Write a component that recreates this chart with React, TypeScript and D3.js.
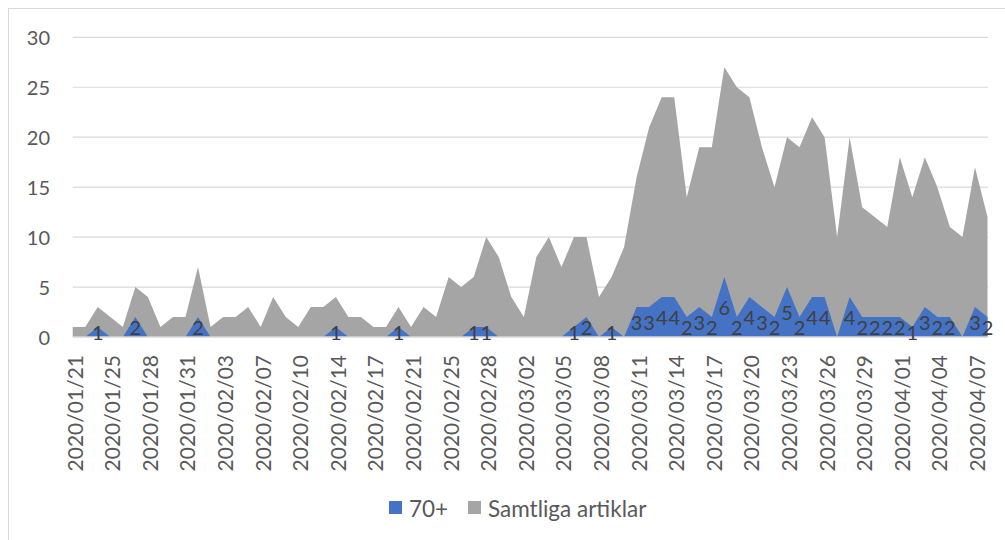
import React from 'react';
import * as d3 from 'd3';

const dates = [
  '2020/01/21', '2020/01/22', '2020/01/24', '2020/01/25', '2020/01/26', '2020/01/27', '2020/01/28', '2020/01/29', '2020/01/30', '2020/01/31',
  '2020/02/01', '2020/02/02', '2020/02/03', '2020/02/04', '2020/02/06', '2020/02/07', '2020/02/08', '2020/02/09', '2020/02/10', '2020/02/11',
  '2020/02/13', '2020/02/14', '2020/02/15', '2020/02/16', '2020/02/17', '2020/02/18', '2020/02/20', '2020/02/21', '2020/02/22', '2020/02/24',
  '2020/02/25', '2020/02/26', '2020/02/27', '2020/02/28', '2020/02/29', '2020/03/01', '2020/03/02', '2020/03/03', '2020/03/04', '2020/03/05',
  '2020/03/06', '2020/03/07', '2020/03/08', '2020/03/09', '2020/03/10', '2020/03/11', '2020/03/12', '2020/03/13', '2020/03/14', '2020/03/15',
  '2020/03/16', '2020/03/17', '2020/03/18', '2020/03/19', '2020/03/20', '2020/03/21', '2020/03/22', '2020/03/23', '2020/03/24', '2020/03/25',
  '2020/03/26', '2020/03/27', '2020/03/28', '2020/03/29', '2020/03/30', '2020/03/31', '2020/04/01', '2020/04/02', '2020/04/03', '2020/04/04',
  '2020/04/05', '2020/04/06', '2020/04/07', '2020/04/08'
];

// Samtliga artiklar
const totalValues = [
  1, 1, 3, 2, 1, 5, 4, 1, 2, 2,
  7, 1, 2, 2, 3, 1, 4, 2, 1, 3,
  3, 4, 2, 2, 1, 1, 3, 1, 3, 2,
  6, 5, 6, 10, 8, 4, 2, 8, 10, 7,
  10, 10, 4, 6, 9, 16, 21, 24, 24, 14,
  19, 19, 27, 25, 24, 19, 15, 20, 19, 22,
  20, 10, 20, 13, 12, 11, 18, 14, 18, 15,
  11, 10, 17, 12
];

// 70+
const olderValues = [
  0, 0, 1, 0, 0, 2, 0, 0, 0, 0,
  2, 0, 0, 0, 0, 0, 0, 0, 0, 0,
  0, 1, 0, 0, 0, 0, 1, 0, 0, 0,
  0, 0, 1, 1, 0, 0, 0, 0, 0, 0,
  1, 2, 0, 1, 0, 3, 3, 4, 4, 2,
  3, 2, 6, 2, 4, 3, 2, 5, 2, 4,
  4, 0, 4, 2, 2, 2, 2, 1, 3, 2,
  2, 0, 3, 2
];

const yTicks = [0, 5, 10, 15, 20, 25, 30];

const W = 1005, H = 540;
const font = 'Lato, "Open Sans", sans-serif';

export default function App() {
  const x = d3.scalePoint<string>().domain(dates).range([72.7, 987.5]);
  const y = d3.scaleLinear().domain([0, 30]).range([337, 37.3]);

  const area = d3.area<number>()
    .x((_, i) => x(dates[i]) as number)
    .y0(y(0))
    .y1((d) => y(d));

  // every third category gets a label
  const labelDates = dates.filter((_, i) => i % 3 === 0);

  return (
    <svg width={W} height={H} style={{ position: 'absolute', left: 0, top: 0, background: '#fff' }}>
      <rect x={8.5} y={8.5} width={1100} height={600} fill="#fff" stroke="#d9d9d9" strokeWidth={1} />

      {yTicks.map((t) => (
        <g key={t}>
          {t > 0 && (
            <line x1={72.7} x2={988} y1={y(t)} y2={y(t)} stroke="#d9d9d9" strokeWidth={1.2} />
          )}
          <text x={50} y={y(t)} textAnchor="end" dominantBaseline="central"
            fontFamily={font} fontSize={20} fill="#595959">{t}</text>
        </g>
      ))}

      <path d={area(totalValues) || ''} fill="#a5a5a5" />
      <path d={area(olderValues) || ''} fill="#4472c4" />

      <line x1={72.7} x2={988} y1={y(0)} y2={y(0)} stroke="#d9d9d9" strokeWidth={1.5} />

      {olderValues.map((v, i) => v > 0 ? (
        <text key={i} x={x(dates[i])} y={y(v / 2)} textAnchor="middle" dominantBaseline="central"
          fontFamily={font} fontSize={20} fill="#404040">{v}</text>
      ) : null)}

      {labelDates.map((d) => (
        <text key={d} transform={`translate(${(x(d) as number) + 1.5},355) rotate(-90)`}
          textAnchor="end" dominantBaseline="central"
          fontFamily={font} fontSize={21} fill="#595959">{d}</text>
      ))}

      <g transform="translate(389,501)">
        <rect x={0} y={0} width={13} height={13} fill="#4472c4" />
        <text x={20} y={7} dominantBaseline="central" fontFamily={font} fontSize={22.5} fill="#595959">70+</text>
        <rect x={79} y={0} width={13} height={13} fill="#a5a5a5" />
        <text x={99} y={7} dominantBaseline="central" fontFamily={font} fontSize={22.5} fill="#595959">Samtliga artiklar</text>
      </g>
    </svg>
  );
}
